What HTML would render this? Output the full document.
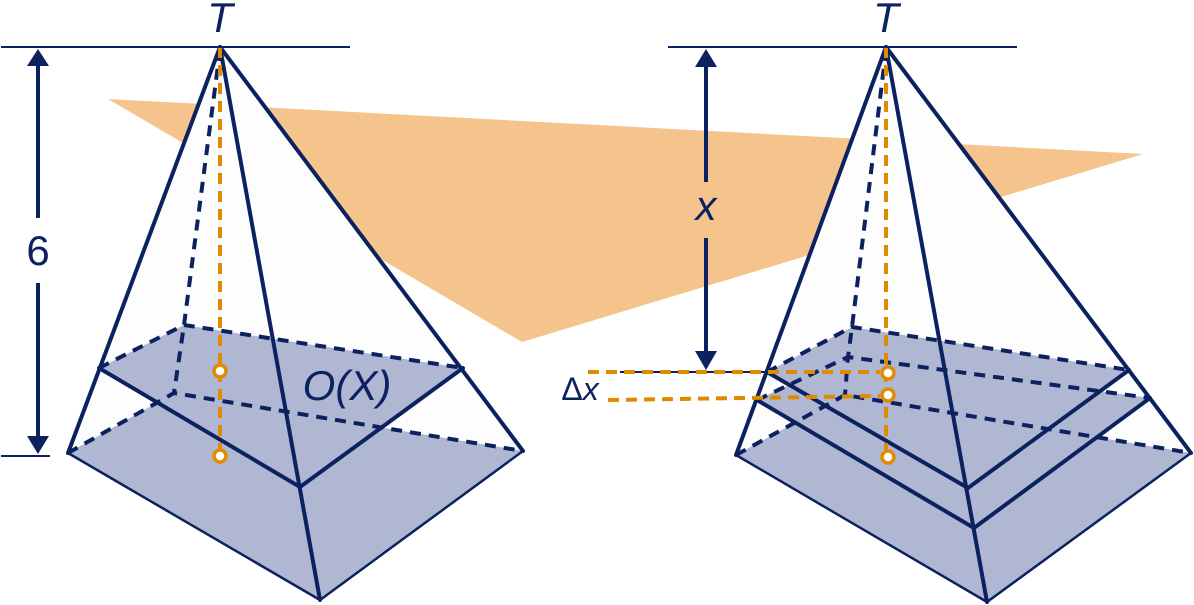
<!DOCTYPE html>
<html><head><meta charset="utf-8"><style>
html,body{margin:0;padding:0;background:#fff;}
svg{display:block;}
text{font-family:"Liberation Sans",sans-serif;fill:#0c2260;}
</style></head><body>
<svg width="1194" height="605" viewBox="0 0 1194 605" xmlns="http://www.w3.org/2000/svg">
<!-- orange plane -->
<polygon points="108,99 1143,154 522,342" fill="#f5c48c"/>

<!-- LEFT PYRAMID -->
<polygon points="220,47 68,453 320,600 523,451" fill="#fdfdfd"/>
<polygon points="68,453 174,393 523,451 320,600" fill="#b0b7d3"/>
<polygon points="184,325 463,368 300,487 99,368" fill="#b0b7d3"/>
<g stroke="#0c2260" fill="none" stroke-linecap="round">
 <polyline points="68,453 320,600 523,451" stroke-width="2.5"/>
 <line x1="220" y1="47" x2="68" y2="453" stroke-width="4"/>
 <line x1="220" y1="47" x2="523" y2="451" stroke-width="4"/>
 <line x1="220" y1="47" x2="320" y2="600" stroke-width="4"/>
 <polyline points="99,368 300,487 463,368" stroke-width="4"/>
 <g stroke-dasharray="11,8" stroke-width="4" stroke-linecap="butt">
  <polyline points="220,50 184,325 174,393"/>
  <polyline points="99,368 184,325 463,368"/>
  <polyline points="68,453 174,393 523,451"/>
 </g>
</g>
<line x1="220" y1="47" x2="220" y2="456" stroke="#e08a00" stroke-width="4" stroke-dasharray="11,7"/>
<circle cx="220" cy="371" r="6" fill="#fff" stroke="#e08a00" stroke-width="3.5"/>
<circle cx="220" cy="456" r="6" fill="#fff" stroke="#e08a00" stroke-width="3.5"/>
<!-- left dims -->
<line x1="1" y1="47" x2="350" y2="47" stroke="#0c2260" stroke-width="2"/>
<line x1="1" y1="456" x2="50" y2="456" stroke="#0c2260" stroke-width="2"/>
<line x1="38" y1="62" x2="38" y2="218" stroke="#0c2260" stroke-width="4"/>
<line x1="38" y1="283" x2="38" y2="440" stroke="#0c2260" stroke-width="4"/>
<polygon points="38,49 27,66 49,66" fill="#0c2260"/>
<polygon points="38,454 27,436 49,436" fill="#0c2260"/>
<text x="38" y="265" font-size="42" text-anchor="middle">6</text>
<text x="220" y="32" font-size="42" font-style="italic" text-anchor="middle">T</text>
<text x="347" y="400" font-size="42" font-style="italic" text-anchor="middle">O(X)</text>

<!-- RIGHT PYRAMID -->
<polygon points="886,47 736,455 987,602 1191,453" fill="#fdfdfd"/>
<polygon points="736,455 845,395 1191,453 987,602" fill="#b0b7d3"/>
<polygon points="848,357 1150,398 974,528 757,400" fill="#b0b7d3"/>
<polygon points="852,327 1129,370 968,488 767,372" fill="#b0b7d3"/>
<g stroke="#0c2260" fill="none" stroke-linecap="round">
 <polyline points="736,455 987,602 1191,453" stroke-width="2.5"/>
 <line x1="886" y1="47" x2="736" y2="455" stroke-width="4"/>
 <line x1="886" y1="47" x2="1191" y2="453" stroke-width="4"/>
 <line x1="886" y1="47" x2="987" y2="602" stroke-width="4"/>
 <polyline points="767,372 968,488 1129,370" stroke-width="4"/>
 <polyline points="757,400 974,528 1150,398" stroke-width="4"/>
 <g stroke-dasharray="11,8" stroke-width="4" stroke-linecap="butt">
  <polyline points="886,50 852,327 848,357 845,395"/>
  <polyline points="767,372 852,327 1129,370"/>
  <polyline points="757,400 848,357 1150,398"/>
  <polyline points="736,455 845,395 1191,453"/>
 </g>
</g>
<!-- orange right -->
<line x1="620" y1="372" x2="767" y2="372" stroke="#0c2260" stroke-width="2"/>
<g stroke="#e08a00" stroke-width="4" stroke-dasharray="11,7" fill="none">
 <line x1="886" y1="47" x2="886" y2="457"/>
 <line x1="588" y1="372" x2="880" y2="372"/>
 <line x1="608" y1="400" x2="880" y2="396"/>
</g>
<circle cx="888" cy="373" r="6" fill="#fff" stroke="#e08a00" stroke-width="3.5"/>
<circle cx="888" cy="395" r="6" fill="#fff" stroke="#e08a00" stroke-width="3.5"/>
<circle cx="888" cy="457" r="6" fill="#fff" stroke="#e08a00" stroke-width="3.5"/>
<!-- right dims -->
<line x1="668" y1="47" x2="1017" y2="47" stroke="#0c2260" stroke-width="2"/>
<line x1="706" y1="62" x2="706" y2="182" stroke="#0c2260" stroke-width="4"/>
<line x1="706" y1="238" x2="706" y2="355" stroke="#0c2260" stroke-width="4"/>
<polygon points="706,49 695,67 717,67" fill="#0c2260"/>
<polygon points="706,370 695,351 717,351" fill="#0c2260"/>
<text x="706" y="220" font-size="42" font-style="italic" text-anchor="middle">x</text>
<text x="886" y="32" font-size="42" font-style="italic" text-anchor="middle">T</text>
<text x="580" y="400" font-size="32" text-anchor="middle">Δ<tspan font-style="italic">x</tspan></text>
</svg>
</body></html>
